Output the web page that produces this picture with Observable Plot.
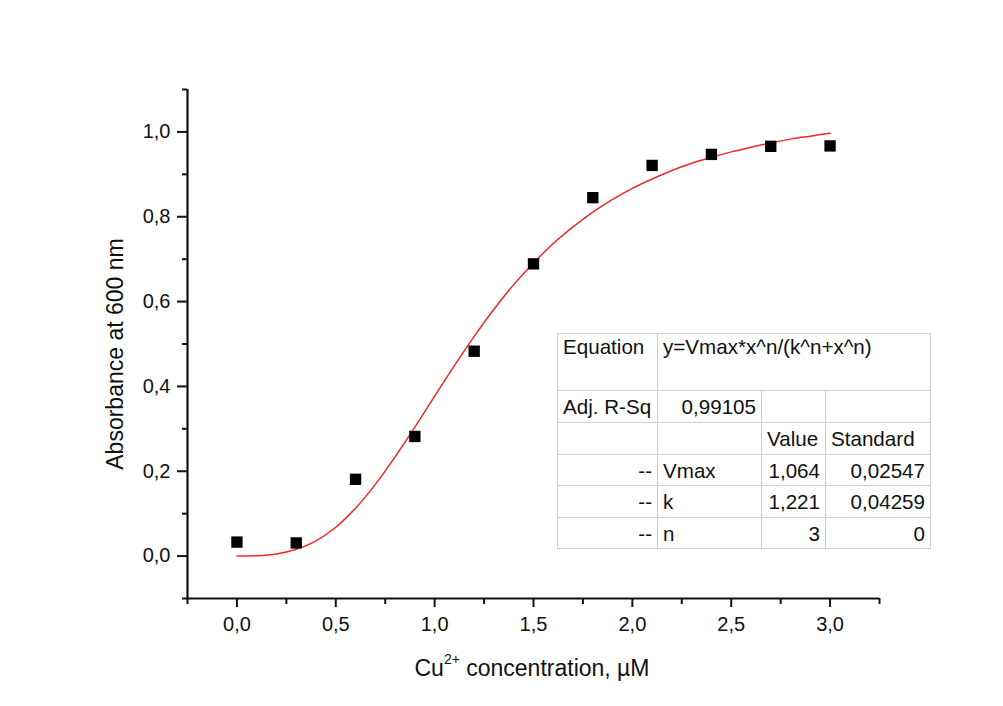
<!DOCTYPE html>
<html>
<head>
<meta charset="utf-8">
<script src="https://cdn.jsdelivr.net/npm/d3@7"></script>
<script src="https://cdn.jsdelivr.net/npm/@observablehq/plot@0.6"></script>
<style>
  html, body { margin: 0; padding: 0; background: #fff; }
  #wrap { position: relative; width: 1003px; height: 706px; overflow: hidden; background: #fff; }
  #fit-table {
    position: absolute; left: 557px; top: 333px; width: 373px;
    border-collapse: collapse; table-layout: fixed;
    font-family: "Liberation Sans", Arial, sans-serif; font-size: 20.6px; color: #111;
    background: #fff;
    border-top: 1px solid #8a8a8a; border-right: 1.5px solid #8a8a8a;
    border-bottom: 1.5px solid #777; border-left: 1.5px solid #444;
  }
  #fit-table td {
    border: 1.5px solid #cfcfcf; padding: 0 5px; line-height: 23px;
    white-space: nowrap; overflow: visible; vertical-align: middle;
  }
  #fit-table tr.head td { vertical-align: top; padding-top: 1px; }
</style>
</head>
<body>
<div id="wrap"></div>
<script>
// ---- data ----
const concentration = [0.0, 0.3, 0.6, 0.9, 1.2, 1.5, 1.8, 2.1, 2.4, 2.7, 3.0];
const absorbance    = [0.033, 0.031, 0.181, 0.282, 0.483, 0.689, 0.845, 0.921, 0.947, 0.966, 0.967];

// fitted curve as drawn (y=Vmax*x^n/(k^n+x^n)), read at 0.1 steps
const fitX = [0.0,0.1,0.2,0.3,0.4,0.5,0.6,0.7,0.8,0.9,1.0,1.1,1.2,1.3,1.4,1.5,1.6,1.7,1.8,1.9,2.0,2.1,2.2,2.3,2.4,2.5,2.6,2.7,2.8,2.9,3.0];
const fitY = [0.000,0.001,0.005,0.016,0.036,0.068,0.113,0.169,0.234,0.304,0.377,0.449,0.518,0.582,0.640,0.691,0.737,0.776,0.811,0.841,0.867,0.889,0.909,0.926,0.940,0.953,0.964,0.974,0.983,0.990,0.997];

const xMajorTicks = [0, 0.5, 1.0, 1.5, 2.0, 2.5, 3.0];
const xMinorTicks = [-0.25, 0.25, 0.75, 1.25, 1.75, 2.25, 2.75, 3.25];
const yMajorTicks = [0, 0.2, 0.4, 0.6, 0.8, 1.0];
const yMinorTicks = [-0.1, 0.1, 0.3, 0.5, 0.7, 0.9, 1.1];

const yLabel = "Absorbance at 600 nm";
const xLabelParts = ["Cu", "2+", " concentration, \u00B5M"];

const tableRows = [
  ["Equation", "y=Vmax*x^n/(k^n+x^n)"],
  ["Adj. R-Sq", "0,99105", "", ""],
  ["", "", "Value", "Standard"],
  ["--", "Vmax", "1,064", "0,02547"],
  ["--", "k", "1,221", "0,04259"],
  ["--", "n", "3", "0"]
];
const tableAlign = [
  ["left", "left"],
  ["left", "right", "left", "left"],
  ["left", "left", "left", "left"],
  ["right", "left", "right", "right"],
  ["right", "left", "right", "right"],
  ["right", "left", "right", "right"]
];
const colWidths = [100, 104, 64, 105];
const rowHeights = [57, 32, 32, 31, 32, 31];

// ---- build ----
const points = concentration.map((x, i) => ({x, y: absorbance[i]}));
const fit = fitX.map((x, i) => ({x, y: fitY[i]}));
const fmt = d => d.toFixed(1).replace(".", ",");
const font = "'Liberation Sans', Arial, sans-serif";

const chart = Plot.plot({
  width: 1003,
  height: 706,
  marginLeft: 187,
  marginRight: 124,
  marginTop: 89,
  marginBottom: 108,
  style: {fontFamily: font, fontSize: "20px", color: "#111", background: "#fff"},
  x: {domain: [-0.25, 3.25]},
  y: {domain: [-0.1, 1.1]},
  marks: [
    Plot.axisX({ticks: xMajorTicks, tickSize: 9, tickPadding: 9, tickFormat: fmt, strokeWidth: 2, label: null, fontSize: 20}),
    Plot.axisX({ticks: xMinorTicks, tickSize: 6, tickFormat: null, text: null, strokeWidth: 2, label: null}),
    Plot.axisY({ticks: yMajorTicks, tickSize: 10, tickPadding: 7, tickFormat: fmt, strokeWidth: 2, label: null, fontSize: 20}),
    Plot.axisY({ticks: yMinorTicks, tickSize: 5, tickFormat: null, text: null, strokeWidth: 2, label: null}),
    Plot.ruleX([-0.25], {stroke: "#111", strokeWidth: 2.2}),
    Plot.ruleY([-0.1], {stroke: "#111", strokeWidth: 2.2}),
    Plot.line(fit, {x: "x", y: "y", stroke: "#f02828", strokeWidth: 1.5, curve: "monotone-x"}),
    Plot.dot(points, {x: "x", y: "y", symbol: "square", r: 6.4, fill: "#000", stroke: "none"})
  ]
});

const wrap = document.getElementById("wrap");
wrap.appendChild(chart);

// axis titles
const svg = d3.select(chart);
svg.append("text")
  .attr("transform", "translate(123,354) rotate(-90)")
  .attr("text-anchor", "middle")
  .attr("font-family", font)
  .attr("font-size", 23)
  .attr("fill", "#111")
  .text(yLabel);

const xl = svg.append("text")
  .attr("x", 532).attr("y", 676)
  .attr("text-anchor", "middle")
  .attr("font-family", font)
  .attr("font-size", 23)
  .attr("fill", "#111");
xl.append("tspan").text(xLabelParts[0]);
xl.append("tspan").attr("dy", -12).attr("font-size", 14).text(xLabelParts[1]);
xl.append("tspan").attr("dy", 12).text(xLabelParts[2]);

// fit results table
const table = document.createElement("table");
table.id = "fit-table";
const cg = document.createElement("colgroup");
colWidths.forEach(w => { const c = document.createElement("col"); c.style.width = w + "px"; cg.appendChild(c); });
table.appendChild(cg);
const tbody = document.createElement("tbody");
tableRows.forEach((row, ri) => {
  const tr = document.createElement("tr");
  if (ri === 0) tr.className = "head";
  tr.style.height = rowHeights[ri] + "px";
  row.forEach((cell, ci) => {
    const td = document.createElement("td");
    td.textContent = cell;
    td.style.textAlign = tableAlign[ri][ci];
    if (ri === 0 && ci === 1) td.colSpan = 3;
    tr.appendChild(td);
  });
  tbody.appendChild(tr);
});
table.appendChild(tbody);
wrap.appendChild(table);
</script>
</body>
</html>
